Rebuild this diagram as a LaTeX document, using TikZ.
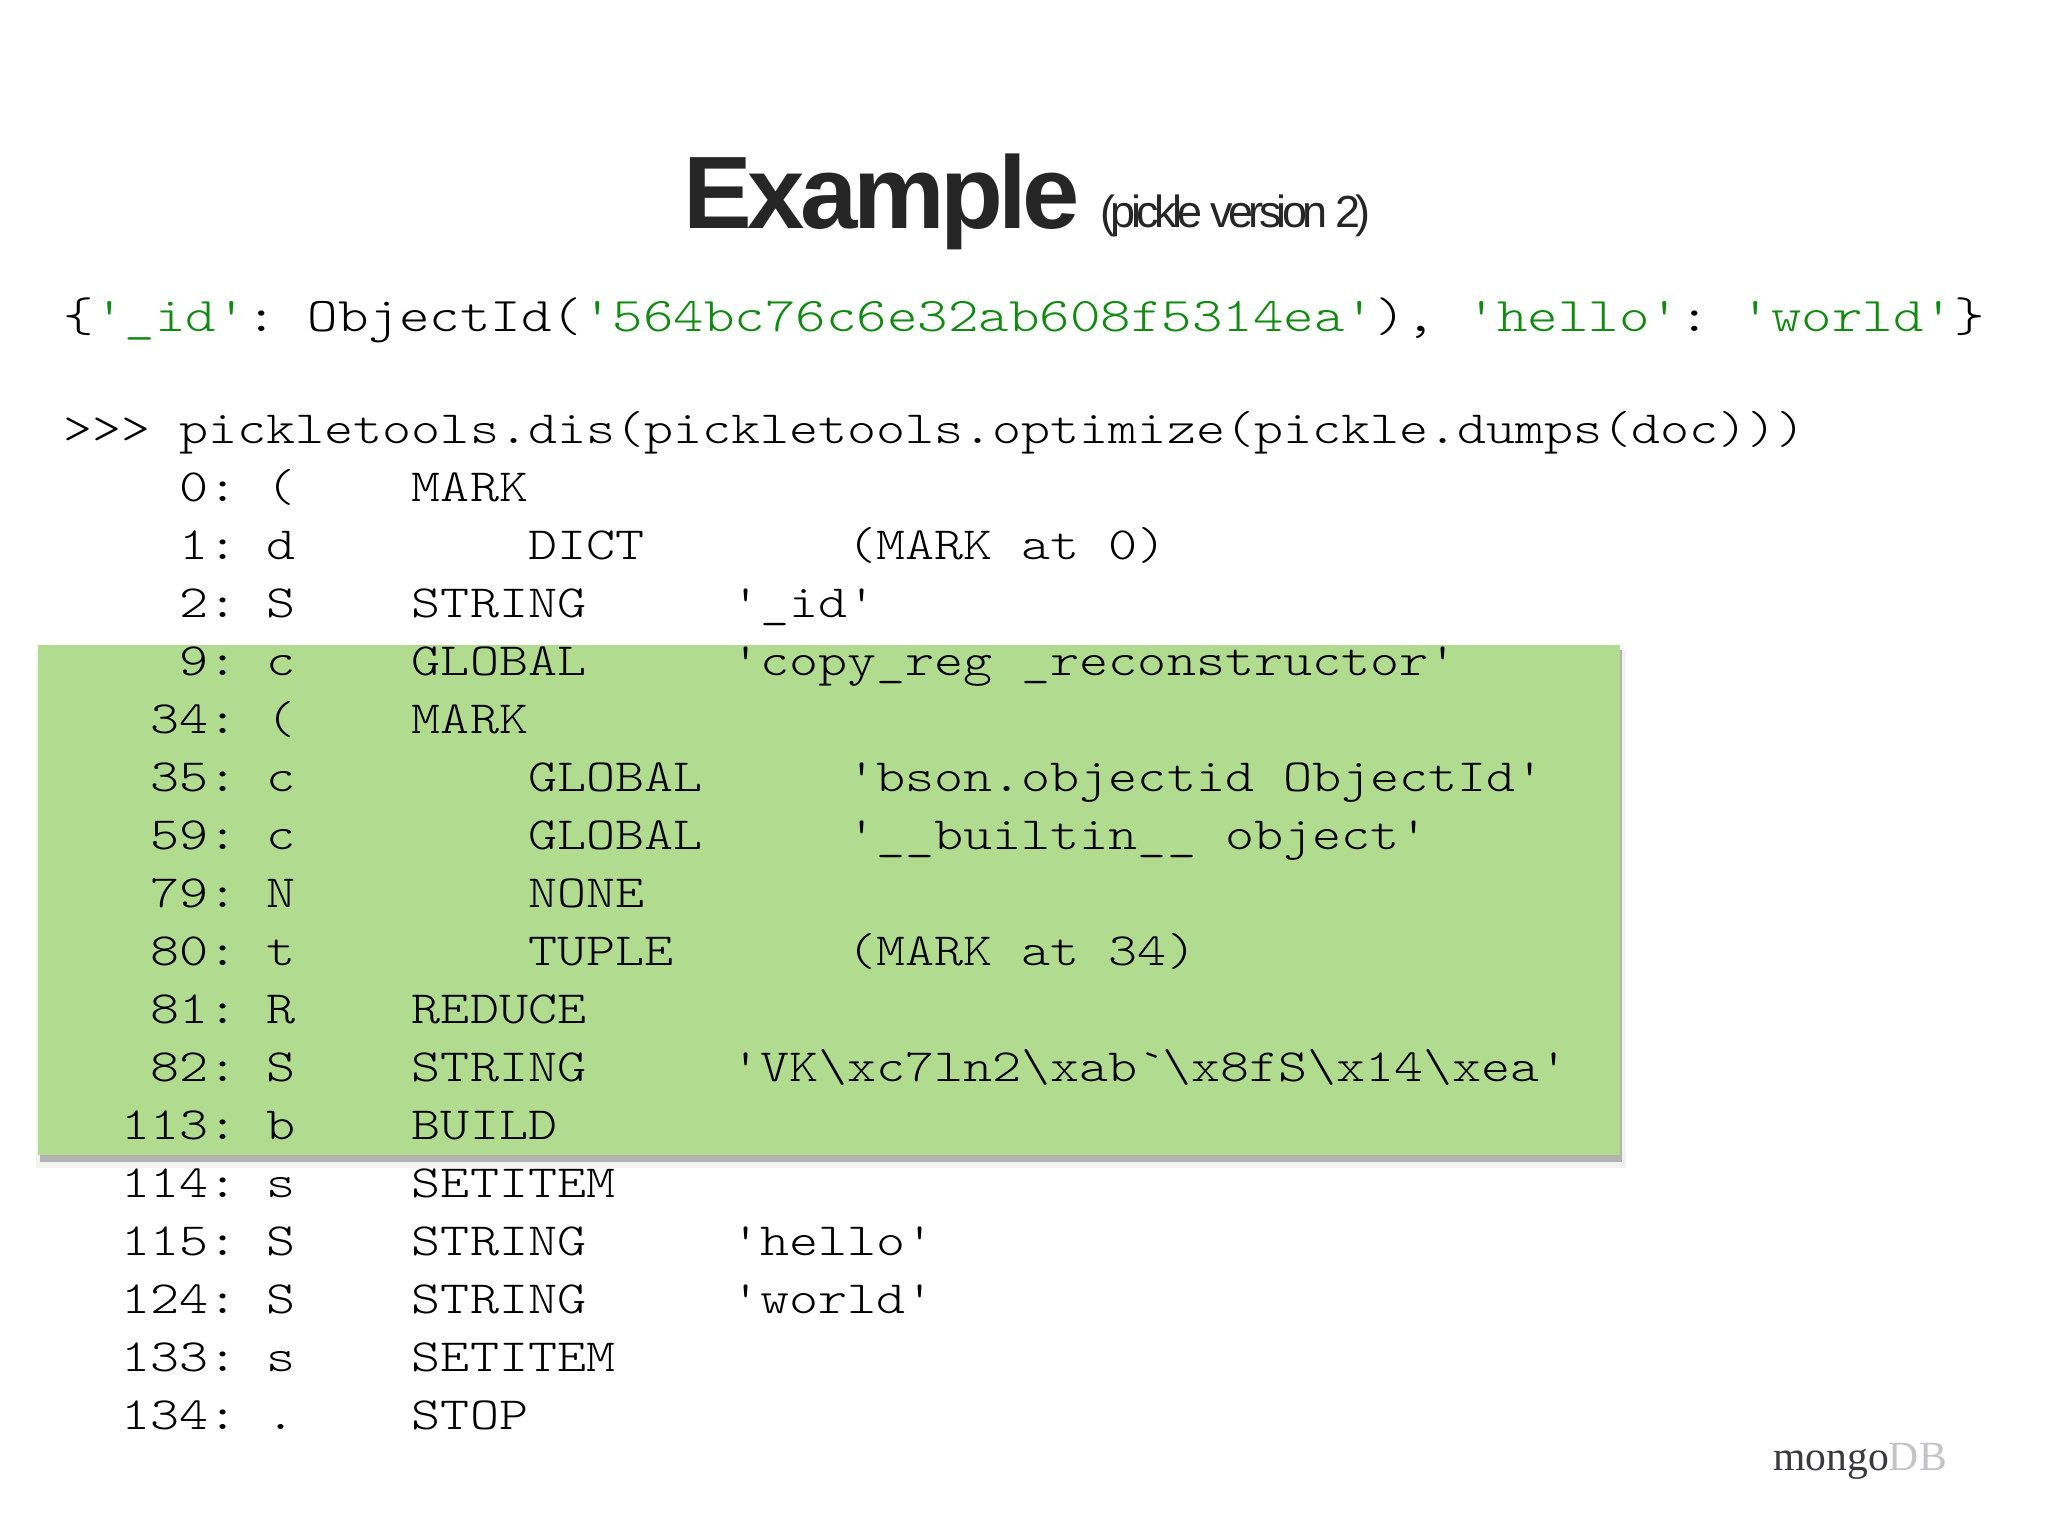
\documentclass[tikz,border=0pt]{standalone}
\usepackage{fontspec}
\newfontfamily\codefont[FakeStretch=1.2]{Latin Modern Mono Light}
\newfontfamily\titlefont[LetterSpace=-4.4]{Liberation Sans Bold}
\newfontfamily\subtitlefont[LetterSpace=-10.3]{Liberation Sans}
\newfontfamily\logofont{Liberation Serif}
\definecolor{strgreen}{HTML}{128A12}
\definecolor{boxgreen}{HTML}{B1DC8F}
\definecolor{titlegray}{HTML}{262626}
\newcommand{\strlit}[1]{\textcolor{strgreen}{#1}}
\begin{document}
\begin{tikzpicture}
[x=0.5pt,y=-0.5pt,
  textdecorate/.style={inner sep=0pt,anchor=base west},%
  codedecorate/.style={textdecorate,font=\codefont\fontsize{23.05}{27}\selectfont}]
\useasboundingbox (0,0) rectangle (2048,1536);
%% highlight box and its shadow
\fill[gray!10] (36,650) rectangle (1626,1168);
\fill[black!30] (40,650) rectangle (1622,1162);
\fill[boxgreen] (38,645) rectangle (1620,1155);
%% title
\node (title) at (683,228) [textdecorate,text=titlegray,font=\titlefont\fontsize{51.5}{60}\selectfont] {Example};
\node (subtitle) at (1100,227) [textdecorate,text=titlegray,font=\subtitlefont\fontsize{22.5}{26}\selectfont] {(pickle version 2)};
%% document and command
\node (doc) at (63.5,331) [textdecorate,font=\codefont\fontsize{24.2}{28}\selectfont]
  {\{\strlit{'\_id'}:~ObjectId(\strlit{'564bc76c6e32ab608f5314ea'}),~\strlit{'hello'}:~\strlit{'world'}\}};
\node (prompt) at (63,443) [codedecorate] {>>>~pickletools.dis(pickletools.optimize(pickle.dumps(doc)))};
%% disassembly rows
\foreach \rowtext [count=\rownum from 0] in {
  ~~~~0:~(~~~~MARK,
  ~~~~1:~d~~~~~~~~DICT~~~~~~~(MARK~at~0),
  ~~~~2:~S~~~~STRING~~~~~'\_id',
  ~~~~9:~c~~~~GLOBAL~~~~~'copy\_reg~\_reconstructor',
  ~~~34:~(~~~~MARK,
  ~~~35:~c~~~~~~~~GLOBAL~~~~~'bson.objectid~ObjectId',
  ~~~59:~c~~~~~~~~GLOBAL~~~~~'\_\_builtin\_\_~object',
  ~~~79:~N~~~~~~~~NONE,
  ~~~80:~t~~~~~~~~TUPLE~~~~~~(MARK~at~34),
  ~~~81:~R~~~~REDUCE,
  ~~~82:~S~~~~STRING~~~~~'VK\textbackslash xc7ln2\textbackslash xab\textasciigrave\textbackslash x8fS\textbackslash x14\textbackslash xea',
  ~~113:~b~~~~BUILD,
  ~~114:~s~~~~SETITEM,
  ~~115:~S~~~~STRING~~~~~'hello',
  ~~124:~S~~~~STRING~~~~~'world',
  ~~133:~s~~~~SETITEM,
  ~~134:~.~~~~STOP} {
  \node (row\rownum) at (63,{501+58*\rownum}) [codedecorate] {\rowtext};
}
%% logo
\node (logo) at (1773,1470) [textdecorate,font=\logofont\fontsize{20.8}{24}\selectfont]
  {\textcolor[HTML]{3A3A3C}{mongo}\textcolor[HTML]{C4C4C8}{DB}};
\end{tikzpicture}
\end{document}
